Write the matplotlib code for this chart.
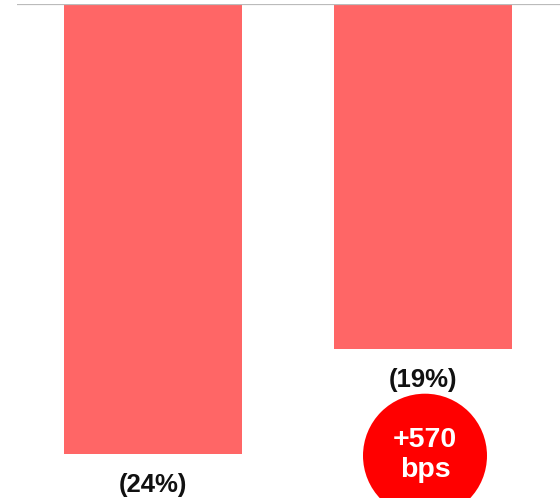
import matplotlib
matplotlib.use("Agg")
import matplotlib.pyplot as plt
from matplotlib.patches import Circle
from matplotlib.transforms import ScaledTranslation

categories = ["Period 1", "Period 2"]
values = [-24.4, -18.7]
value_labels = ["(24%)", "(19%)"]
badge_text = ["+570", "bps"]

plt.rcParams['font.family'] = ['Liberation Sans', 'DejaVu Sans']

DPI = 100
W, H = 560, 498
fig = plt.figure(figsize=(W / DPI, H / DPI), dpi=DPI)
ax = fig.add_axes([17 / W, 0, 543 / W, 494 / H])

x = list(range(len(categories)))
ax.bar(x, values, width=178 / 270, color="#FF6666", zorder=2)
ax.set_xlim((17 - 153) / 270, (560 - 153) / 270)
ax.set_ylim(-26.8, 0)
ax.axhline(0, color="#BBBBBB", lw=1.6, zorder=3)
for s in ax.spines.values():
    s.set_visible(False)
ax.set_xticks([])
ax.set_yticks([])

px = 72 / DPI
for xi, v, lab in zip(x, values, value_labels):
    ax.annotate(lab, (xi, v), xytext=(0, -38 * px), textcoords="offset points",
                ha="center", va="baseline", fontsize=18.5, fontweight="bold",
                color="#111111")

# badge under the second bar
bx, bv = x[1], values[1]
tr = fig.dpi_scale_trans + ScaledTranslation(bx, bv, ax.transData)
circ = Circle((2 / DPI, -107 / DPI), radius=62 / DPI, transform=tr,
              facecolor="#FF0000", edgecolor="none", clip_on=False, zorder=4)
ax.add_patch(circ)
ax.annotate(badge_text[0], (bx, bv), xytext=(2 * px, -98.5 * px),
            textcoords="offset points", ha="center", va="baseline",
            fontsize=20.5, fontweight="bold", color="white", zorder=5)
ax.annotate(badge_text[1], (bx, bv), xytext=(2 * px, -128 * px),
            textcoords="offset points", ha="center", va="baseline",
            fontsize=20.5, fontweight="bold", color="white", zorder=5)

fig.savefig("out.png", dpi=DPI)
